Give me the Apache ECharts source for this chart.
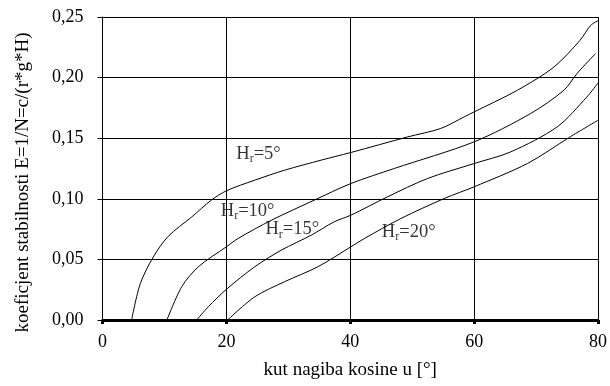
<!DOCTYPE html>
<html><head><meta charset="utf-8">
<script src="https://cdn.jsdelivr.net/npm/echarts@6/dist/echarts.min.js"></script>
<style>html,body{margin:0;padding:0;background:#fff}#c{width:610px;height:386px}</style>
</head><body><div id="c"></div>
<script>
const xTicks = [0, 20, 40, 60, 80];
const yTicks = [0, 0.05, 0.10, 0.15, 0.20, 0.25];
const seriesNames = ['5°', '10°', '15°', '20°'];
const curve5 = [[4.7,0],[6.1,0.030],[8.2,0.052],[10.6,0.069],[14.4,0.085],[17.6,0.099],[20,0.1066],[24.6,0.1154],[29.4,0.1236],[35.3,0.1319],[40.1,0.1382],[49.3,0.1511],[54.6,0.158],[58.4,0.1676],[60,0.1717],[67,0.1896],[72.9,0.2088],[77.1,0.2308],[78.8,0.243],[80,0.247]];
const curve10 = [[10.4,0],[12.8,0.0275],[15.5,0.044],[20,0.0604],[21.9,0.0673],[27.3,0.0824],[34.2,0.0989],[40.1,0.1126],[47.1,0.125],[60,0.147],[69.1,0.1703],[74.5,0.1896],[76.6,0.2033],[79.6,0.2198]];
const curve15 = [[15.2,0],[17.1,0.011],[20,0.0253],[24.6,0.044],[28.9,0.0577],[33.7,0.070],[37.4,0.081],[40.1,0.0865],[46,0.1016],[52.5,0.1168],[60,0.1291],[65.9,0.1387],[73.4,0.1593],[78.2,0.184],[80,0.1956]];
const curve20 = [[20.2,0],[24.6,0.0192],[29.4,0.0316],[34.8,0.044],[40.1,0.0604],[42.3,0.0673],[48.2,0.0838],[55.2,0.1003],[60,0.1099],[68.6,0.1291],[75.5,0.1511],[80,0.1648]];
const labelPos = [[21.6,0.137],[19.1,0.0901],[26.3,0.0747],[45.1,0.0728]];

const curves = [curve5, curve10, curve15, curve20];
const font = 'Liberation Serif';
const chart = echarts.init(document.getElementById('c'));
const lineSeries = curves.map((d, i) => ({
  type: 'line', name: seriesNames[i], data: d, showSymbol: false, smooth: 0.3,
  lineStyle: {color: '#000', width: 1}, silent: true, z: 3
}));
const labelSeries = {
  type: 'scatter', symbolSize: 0, silent: true, z: 4,
  data: labelPos.map((p, i) => ({value: p, name: seriesNames[i]})),
  label: {
    show: true, position: 'right', distance: 0,
    formatter: p => '{h|H}{s|r}{h|=' + p.name + '}',
    rich: {
      h: {fontFamily: font, fontSize: 18.5, color: '#000'},
      s: {fontFamily: font, fontSize: 12, color: '#000', verticalAlign: 'bottom', padding: [10,0,0,0]}
    }
  }
};
chart.setOption({
  animation: false,
  backgroundColor: '#fff',
  grid: {left: 102.5, right: 11, top: 17, bottom: 66},
  xAxis: {
    type: 'value', min: xTicks[0], max: xTicks[xTicks.length-1], interval: 20,
    name: 'kut nagiba kosine u [°]', nameLocation: 'middle', nameGap: 41,
    nameTextStyle: {fontFamily: font, fontSize: 19, color: '#000'},
    axisLine: {lineStyle: {color: '#000', width: 3}},
    axisTick: {show: true, length: 4, lineStyle: {color: '#000', width: 3}},
    axisLabel: {fontFamily: font, fontSize: 18, color: '#000', margin: 13},
    splitLine: {show: true, lineStyle: {color: '#000', width: 1}}
  },
  yAxis: {
    type: 'value', min: yTicks[0], max: yTicks[yTicks.length-1], interval: 0.05,
    name: 'koeficjent stabilnosti E=1/N=c/(r*g*H)', nameLocation: 'middle', nameGap: 70,
    nameTextStyle: {fontFamily: font, fontSize: 19, color: '#000', padding: [0,0,0,-28]},
    axisLine: {show: true, lineStyle: {color: '#000', width: 1}},
    axisTick: {show: true, length: 5, lineStyle: {color: '#000', width: 1}},
    axisLabel: {fontFamily: font, fontSize: 18, color: '#000', margin: 19,
      formatter: v => v.toFixed(2).replace('.', ',')},
    splitLine: {show: true, lineStyle: {color: '#000', width: 1}}
  },
  series: [...lineSeries, labelSeries]
});
</script></body></html>
